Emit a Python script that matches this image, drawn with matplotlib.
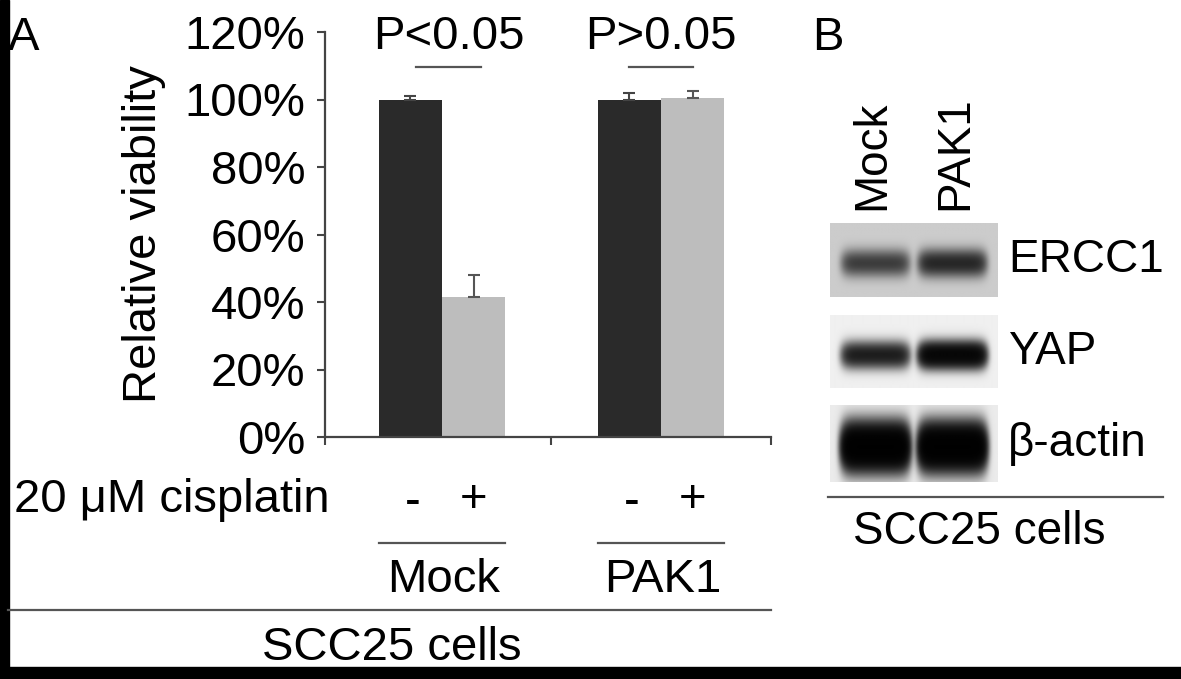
import numpy as np
import matplotlib.pyplot as plt
from matplotlib.lines import Line2D
from matplotlib.patches import Rectangle

plt.rcParams['font.family'] = ['Liberation Sans', 'DejaVu Sans']

# panel A data
groups = ['Mock', 'PAK1']
untreated = [1.00, 1.00]
untreated_err = [0.01, 0.02]
cisplatin = [0.415, 1.005]
cisplatin_err = [0.065, 0.02]
yticks = [0, 0.2, 0.4, 0.6, 0.8, 1.0, 1.2]
ytick_labels = ['0%', '20%', '40%', '60%', '80%', '100%', '120%']
pvals = ['P<0.05', 'P>0.05']

# panel B (band intensities, lanes Mock / PAK1)
blot_names = ['ERCC1', 'YAP', '\u03b2-actin']
blot_bands = [[0.55, 0.75], [0.95, 1.6], [2.5, 2.5]]
blot_bg = [0.80, 0.94, 0.92]

W, H = 1181, 679
fig = plt.figure(figsize=(W / 100, H / 100), dpi=100)
fig.patch.set_facecolor('white')


def fx(x):
    return x / W


def fy(y):
    return 1 - y / H


def hline(x0, x1, y, lw=1.6, c='#555555'):
    fig.add_artist(Line2D([fx(x0), fx(x1)], [fy(y), fy(y)], color=c, lw=lw))


FS = 34

# ---- panel A ----
ax = fig.add_axes([fx(325), fy(437), fx(771) - fx(325), fy(32) - fy(437)])
x = np.arange(len(groups))
bw = 0.288
ax.bar(x - bw / 2, untreated, bw, color='#2a2a2a',
       yerr=[np.zeros(2), untreated_err], ecolor='#444444',
       error_kw=dict(capsize=4, lw=1.5, capthick=1.5))
ax.bar(x + bw / 2, cisplatin, bw, color='#bdbdbd',
       yerr=[np.zeros(2), cisplatin_err], ecolor='#555555',
       error_kw=dict(capsize=4, lw=1.5, capthick=1.5))
ax.set_xlim(-0.534, 1.502)
ax.set_ylim(0, 1.2)
ax.set_yticks(yticks)
ax.set_yticklabels(ytick_labels, fontsize=FS)
ax.set_xticks([-0.534, 0.498, 1.502])
ax.set_xticklabels([])
ax.tick_params(axis='both', direction='out', length=6, width=1.5,
               color='#444444', pad=8)
for s in ['top', 'right']:
    ax.spines[s].set_visible(False)
for s in ['left', 'bottom']:
    ax.spines[s].set_color('#444444')
    ax.spines[s].set_linewidth(1.6)
ax.set_ylabel('Relative viability', fontsize=34)
ax.yaxis.set_label_coords((fx(166) - fx(325)) / (fx(771) - fx(325)), 0.5)

# significance marks
for i, p in enumerate(pvals):
    cx = x[i] + (0.03 if i == 0 else 0.0)
    ax.text(cx, 1.185, p, ha='center', va='center', fontsize=FS, clip_on=False)
    ax.plot([cx - 0.148, cx + 0.148], [1.096, 1.096],
            color='#555555', lw=1.6, clip_on=False)

fig.text(fx(8), fy(38), 'A', fontsize=FS, ha='left', va='center')

# treatment row
fig.text(fx(14), fy(500), '20 \u03bcM cisplatin', fontsize=FS,
         ha='left', va='center')
for cx, name in zip([442, 661], groups):
    fig.text(fx(cx - 29), fy(503), '-', fontsize=FS, ha='center', va='center')
    fig.text(fx(cx + 32), fy(500), '+', fontsize=FS, ha='center', va='center')
    hline(cx - 63, cx + 63, 543)
    fig.text(fx(cx + 2), fy(580), name, fontsize=FS, ha='center', va='center')
hline(8, 771, 610)
fig.text(fx(392), fy(648), 'SCC25 cells', fontsize=FS, ha='center', va='center')

# ---- panel B ----
fig.text(fx(812), fy(38), 'B', fontsize=FS, ha='left', va='center')
for lx, name in zip([872, 955], groups):
    fig.text(fx(lx), fy(210), name, fontsize=FS - 1, rotation=90,
             ha='center', va='bottom')

boxes = [(223, 297), (315, 388), (405, 482)]
xs = np.linspace(0, 1, 170)
for (top, bot), name, bands, bg in zip(boxes, blot_names, blot_bands, blot_bg):
    bax = fig.add_axes([fx(830), fy(bot), fx(998) - fx(830), fy(top) - fy(bot)])
    ys = np.linspace(0, 1, bot - top)
    X, Y = np.meshgrid(xs, ys)
    dens = np.zeros_like(X)
    for lane_c, amp in zip([0.27, 0.73], bands):
        wy = 0.16 if amp < 2 else 0.26
        dens += amp * np.exp(-((X - lane_c) / 0.2) ** 8) * np.exp(-((Y - 0.55) / wy) ** 2)
    img = bg * np.exp(-2.2 * dens)
    bax.imshow(img, cmap='gray', vmin=0, vmax=1, aspect='auto',
               interpolation='bilinear')
    bax.set_axis_off()
    fig.text(fx(1008), fy((top + bot) / 2), name, fontsize=FS - 1,
             ha='left', va='center')
hline(828, 1163, 497)
fig.text(fx(979), fy(532), 'SCC25 cells', fontsize=FS - 1, ha='center', va='center')

# dark frame edges
fig.add_artist(Rectangle((0, 0), fx(9), 1, color='black', transform=fig.transFigure))
fig.add_artist(Rectangle((0, 0), 1, fy(667), color='black', transform=fig.transFigure))

plt.savefig('out.png', dpi=100)
